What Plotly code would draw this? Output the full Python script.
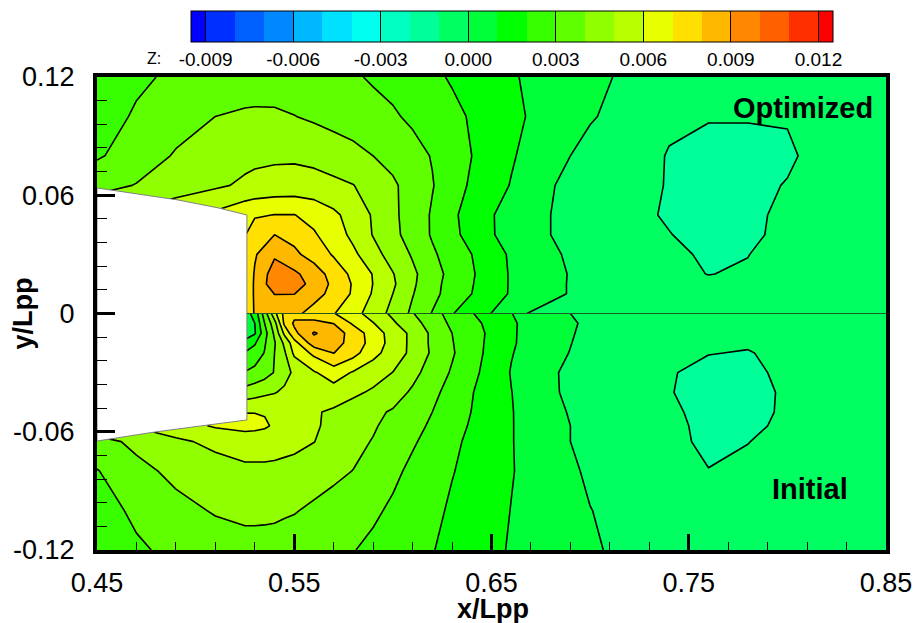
import plotly.graph_objects as go

# values in units of 0.001
x_upper = [.45,.47,.49,.51,.525,.53,.54,.55,.56,.57,.58,.59,.60,.61,.62,.63,.64,.65,.66,.68,.70,.72,.74,.76,.78,.80,.82,.85]
y_upper = [.12,.10,.08,.065,.05,.04,.03,.02,.015,.01,0]
z_upper = [
 [2.4,2.85,3.15,3.35,3.45,3.45,3.5,3.5,3.45,3.3,3.1,2.9,2.75,2.5,2.2,1.9,1.65,1.4,1.1,.6,.2,-.15,-.4,-.5,-.55,-.5,-.45,-.35],
 [2.6,3.1,3.55,4.0,4.15,4.18,4.15,4.02,3.85,3.65,3.5,3.3,3.1,2.85,2.5,2.25,1.9,1.55,1.2,.65,.08,-.35,-.85,-.97,-.96,-.93,-.5,-.4],
 [2.9,3.4,4.1,4.5,4.75,4.8,4.85,4.85,4.75,4.55,4.3,4.0,3.7,3.3,2.95,2.45,2.0,1.55,1.1,.3,-.3,-.6,-1.05,-1.15,-1.2,-1.15,-.6,-.5],
 [3.6,4.05,4.5,4.85,5.15,5.25,5.35,5.4,5.35,5.2,5.02,4.6,4.15,3.6,3.05,2.45,1.85,1.4,.95,.05,-.4,-.7,-1.05,-1.25,-1.25,-.95,-.7,-.5],
 [5,5.3,5.7,6.2,6.75,6.9,7.02,7.02,6.7,6.2,5.6,4.9,4.2,3.55,2.9,2.2,1.55,1.05,.7,0,-.4,-.75,-1.1,-1.3,-1.2,-.8,-.6,-.45],
 [5.5,5.8,6.2,6.6,6.95,7.5,8.0,7.7,7.1,6.5,5.75,4.95,4.25,3.6,2.9,2.25,1.65,1.05,.75,0,-.45,-.8,-.97,-1.3,-1.15,-.8,-.55,-.45],
 [5.8,6.1,6.4,6.7,7.05,7.9,8.85,8.2,7.6,6.9,6.2,5.35,4.6,3.9,3.15,2.55,2.0,1.45,.85,.15,-.4,-.7,-.85,-1.1,-1.02,-.6,-.5,-.4],
 [6,6.3,6.6,6.8,7.1,8.1,9.5,9.2,8.5,7.6,6.75,5.95,5.05,4.2,3.4,2.7,2.1,1.5,.9,.25,-.35,-.6,-.75,-1.02,-.9,-.55,-.45,-.4],
 [6.1,6.35,6.65,6.85,7.1,8.15,9.6,9.4,8.7,7.75,6.9,5.98,5.15,4.15,3.35,2.6,2.05,1.5,.9,.2,-.3,-.55,-.7,-.8,-.75,-.5,-.4,-.35],
 [6.2,6.4,6.7,6.9,7.1,8.15,9.02,9.02,8.3,7.75,6.85,5.9,5.0,4.05,3.3,2.55,2.0,1.45,.9,.2,-.3,-.5,-.65,-.7,-.7,-.5,-.4,-.35],
 [6.2,6.4,6.7,6.9,7.1,8.1,8.5,8.2,7.7,7.05,6.35,5.55,4.7,3.8,2.95,2.05,1.5,.98,.2,-.3,-.3,-.45,-.55,-.6,-.6,-.5,-.4,-.3],
]

x_lower = [.45,.47,.49,.51,.525,.53,.535,.54,.545,.55,.56,.57,.58,.59,.60,.61,.62,.63,.64,.65,.66,.68,.70,.72,.74,.76,.78,.80,.82,.85]
y_lower = [0,-.005,-.01,-.015,-.02,-.03,-.04,-.05,-.057,-.065,-.08,-.10,-.12]
z_lower = [
 [.5,.5,.5,.5,.5,1.4,3.5,5.7,7.3,7.7,7.5,7.05,6.35,5.55,4.8,4.05,3.35,2.65,2.05,1.55,1.02,.3,-.3,-.5,-.6,-.65,-.6,-.5,-.4,-.35],
 [.3,.3,.3,.3,.3,1.0,3.0,4.6,7.2,8.15,8.25,7.98,6.85,6.05,5.15,4.35,3.6,2.8,2.25,1.75,1.1,.45,-.2,-.5,-.65,-.7,-.7,-.55,-.45,-.35],
 [.3,.3,.3,.3,.3,.9,2.6,4.2,6.2,7.75,9.1,8.5,7.6,6.5,5.6,4.75,3.8,3.0,2.4,1.8,1.1,.4,-.25,-.5,-.7,-.8,-.8,-.6,-.45,-.35],
 [1.4,1.4,1.4,1.4,1.4,1.9,2.9,3.9,5.2,6.6,8.55,8.4,7.6,6.6,5.6,4.75,3.8,3.05,2.4,1.75,1.1,.35,-.3,-.5,-.7,-.85,-.9,-.7,-.5,-.35],
 [2.05,2.05,2.05,2.05,2.05,2.4,3.05,4.0,4.85,6.2,7.25,8.02,7.35,6.3,5.55,4.75,3.85,3.1,2.4,1.7,1.05,.25,-.3,-.55,-.75,-.97,-1.05,-.75,-.55,-.4],
 [3.05,3.05,3.05,3.05,3.05,3.3,3.6,4.05,4.7,5.15,5.9,6.5,5.9,5.45,4.98,4.3,3.55,2.9,2.25,1.6,.95,.1,-.4,-.7,-.93,-1.25,-1.2,-.8,-.55,-.4],
 [4.4,4.4,4.4,4.4,4.4,4.6,4.8,4.95,5.15,5.4,5.6,5.55,5.2,4.85,4.45,3.85,3.2,2.7,2.05,1.5,1.02,.1,-.35,-.7,-.95,-1.35,-1.35,-.85,-.6,-.4],
 [5,5.2,5.5,5.8,5.98,5.98,5.95,5.8,5.55,5.35,5.1,4.85,4.5,4.2,3.9,3.45,3.0,2.45,1.98,1.4,1.05,.2,-.3,-.65,-.85,-1.25,-1.3,-.85,-.6,-.4],
 [4.8,5.1,5.6,6.1,6.25,6.2,6.1,5.9,5.6,5.4,5.1,4.8,4.4,4.1,3.7,3.3,2.85,2.35,1.9,1.4,1.05,.25,-.25,-.6,-.8,-1.2,-1.2,-.8,-.55,-.4],
 [3.6,4.25,4.8,5.25,5.55,5.55,5.55,5.5,5.4,5.3,5.02,4.6,4.25,3.95,3.55,3.1,2.7,2.2,1.8,1.35,1.05,.25,-.25,-.55,-.8,-1.15,-1.02,-.7,-.5,-.4],
 [2.95,3.7,4.25,4.55,4.75,4.75,4.75,4.72,4.65,4.6,4.4,4.2,3.98,3.6,3.2,2.8,2.4,2.05,1.7,1.35,1.05,.45,-.15,-.45,-.7,-.98,-.8,-.6,-.45,-.35],
 [2.55,3.2,3.7,4.08,4.22,4.22,4.2,4.18,4.1,4.05,3.85,3.65,3.45,3.15,2.85,2.55,2.25,1.85,1.6,1.3,.98,.5,.02,-.3,-.5,-.6,-.55,-.45,-.35,-.3],
 [2.2,2.85,3.25,3.5,3.65,3.65,3.65,3.62,3.6,3.55,3.35,3.2,3.03,2.8,2.55,2.3,2.03,1.8,1.5,1.2,.92,.55,.1,-.2,-.35,-.45,-.4,-.35,-.3,-.25],
]

hull_x = [.45,.4911,.5114,.526,.526,.5061,.4795,.45,.45]
hull_y = [.0637,.0576,.0536,.05,-.054,-.0565,-.0601,-.0647,.0637]
mid_x = [.526,.85]
mid_y = [0,0]

band_edges = [-9.5,-9,-8,-7,-6,-5,-4,-3,-2,-1,0,1,2,3,4,5,6,7,8,9,10,11,12,12.5]
band_colors = ["#0000ff","#0030ff","#0060ff","#0088ff","#00b8ff","#00e0ff","#00fff0","#00ffc0",
               "#00ff98","#00ff60","#00ff38","#00ff00","#38ff00","#60ff00","#90ff00","#b8ff00",
               "#e8ff00","#ffe000","#ffb800","#ff8800","#ff6000","#ff3000","#ff0000"]
colorscale = []
for i, c in enumerate(band_colors):
    colorscale.append([(band_edges[i] + 9.5) / 22, c])
    colorscale.append([(band_edges[i + 1] + 9.5) / 22, c])

cbar_ticks = [-9, -6, -3, 0, 3, 6, 9, 12]
cbar_labels = ["-0.009", "-0.006", "-0.003", "0.000", "0.003", "0.006", "0.009", "0.012"]
FONT = "Liberation Sans"

levels = dict(start=-9, end=12, size=1, coloring="fill", showlines=True)
fig = go.Figure()
for xs, ys, zs in [(x_upper, y_upper, z_upper), (x_lower, y_lower, z_lower)]:
    fig.add_trace(go.Contour(x=xs, y=ys, z=zs, autocontour=False, contours=levels,
                             colorscale=colorscale, showscale=False,
                             line=dict(color="black", width=1.6, smoothing=0),
                             hoverinfo="skip"))
fig.add_trace(go.Scatter(x=hull_x, y=hull_y, mode="lines", fill="toself", fillcolor="white",
                         line=dict(color="#808080", width=1), hoverinfo="skip", showlegend=False))
fig.add_trace(go.Scatter(x=mid_x, y=mid_y, mode="lines", line=dict(color="#1d5a24", width=1),
                         hoverinfo="skip", showlegend=False))
fig.add_trace(go.Scatter(x=[None], y=[None], mode="markers", showlegend=False,
    marker=dict(color=[0], colorscale=colorscale, cmin=-9.5, cmax=12.5, showscale=True,
        colorbar=dict(orientation="h", lenmode="pixels", len=642, thicknessmode="pixels", thickness=31,
                      x=0.526, xanchor="center", y=1.14, yanchor="top", xpad=0, ypad=0,
                      outlinecolor="black", outlinewidth=1, tickmode="array",
                      tickvals=cbar_ticks, ticktext=cbar_labels, ticks="inside", ticklen=31,
                      tickwidth=1, tickcolor="black",
                      tickfont=dict(family=FONT, size=19, color="black"))))
)

fig.update_layout(
    width=915, height=623, autosize=False, showlegend=False,
    margin=dict(l=97, r=29, t=77, b=73, autoexpand=False), paper_bgcolor="white", plot_bgcolor="white",
    font=dict(family=FONT, color="black"),
    xaxis=dict(range=[.45, .85], automargin=False, tickmode="array", tickvals=[.45, .55, .65, .75, .85],
               ticktext=["0.45", "0.55", "0.65", "0.75", "0.85"], ticks="inside", ticklen=16, tickwidth=3,
               tickcolor="black", showgrid=False, zeroline=False, showline=True, linecolor="black",
               linewidth=4, mirror=True, tickfont=dict(size=27), ticklabelstandoff=6,
               minor=dict(dtick=.02, tick0=.45, ticks="inside", ticklen=8, tickwidth=1, tickcolor="black", showgrid=False)),
    yaxis=dict(range=[-.12, .12], automargin=False, tickmode="array", tickvals=[-.12, -.06, 0, .06, .12],
               ticktext=["-0.12", "-0.06", "0", "0.06", "0.12"], ticks="inside", ticklen=18, tickwidth=3,
               tickcolor="black", showgrid=False, zeroline=False, showline=True, linecolor="black",
               linewidth=4, mirror=True, tickfont=dict(size=27), ticklabelstandoff=13,
               minor=dict(dtick=.012, tick0=-.12, ticks="inside", ticklen=10, tickwidth=1, tickcolor="black", showgrid=False)),
    annotations=[
        dict(text="<b>Optimized</b>", xref="x", yref="y", x=.7714, y=.1045, xanchor="left", yanchor="middle", showarrow=False, font=dict(size=29)),
        dict(text="<b>Initial</b>", xref="x", yref="y", x=.7914, y=-.0890, xanchor="left", yanchor="middle", showarrow=False, font=dict(size=29)),
        dict(text="Z:", xref="paper", yref="paper", x=.061, y=1.04, xanchor="left", yanchor="middle", showarrow=False, font=dict(size=16)),
        dict(text="<b>x/Lpp</b>", xref="paper", yref="paper", x=.5016, y=-.1245, xanchor="center", yanchor="middle", showarrow=False, font=dict(size=27)),
        dict(text="<b>y/Lpp</b>", xref="paper", yref="paper", x=-.095, y=.5, xanchor="center", yanchor="middle", textangle=-90, showarrow=False, font=dict(size=27)),
    ],
)
fig.write_html("out.html", post_script="document.body.style.margin='0';", config={"displayModeBar": False})
